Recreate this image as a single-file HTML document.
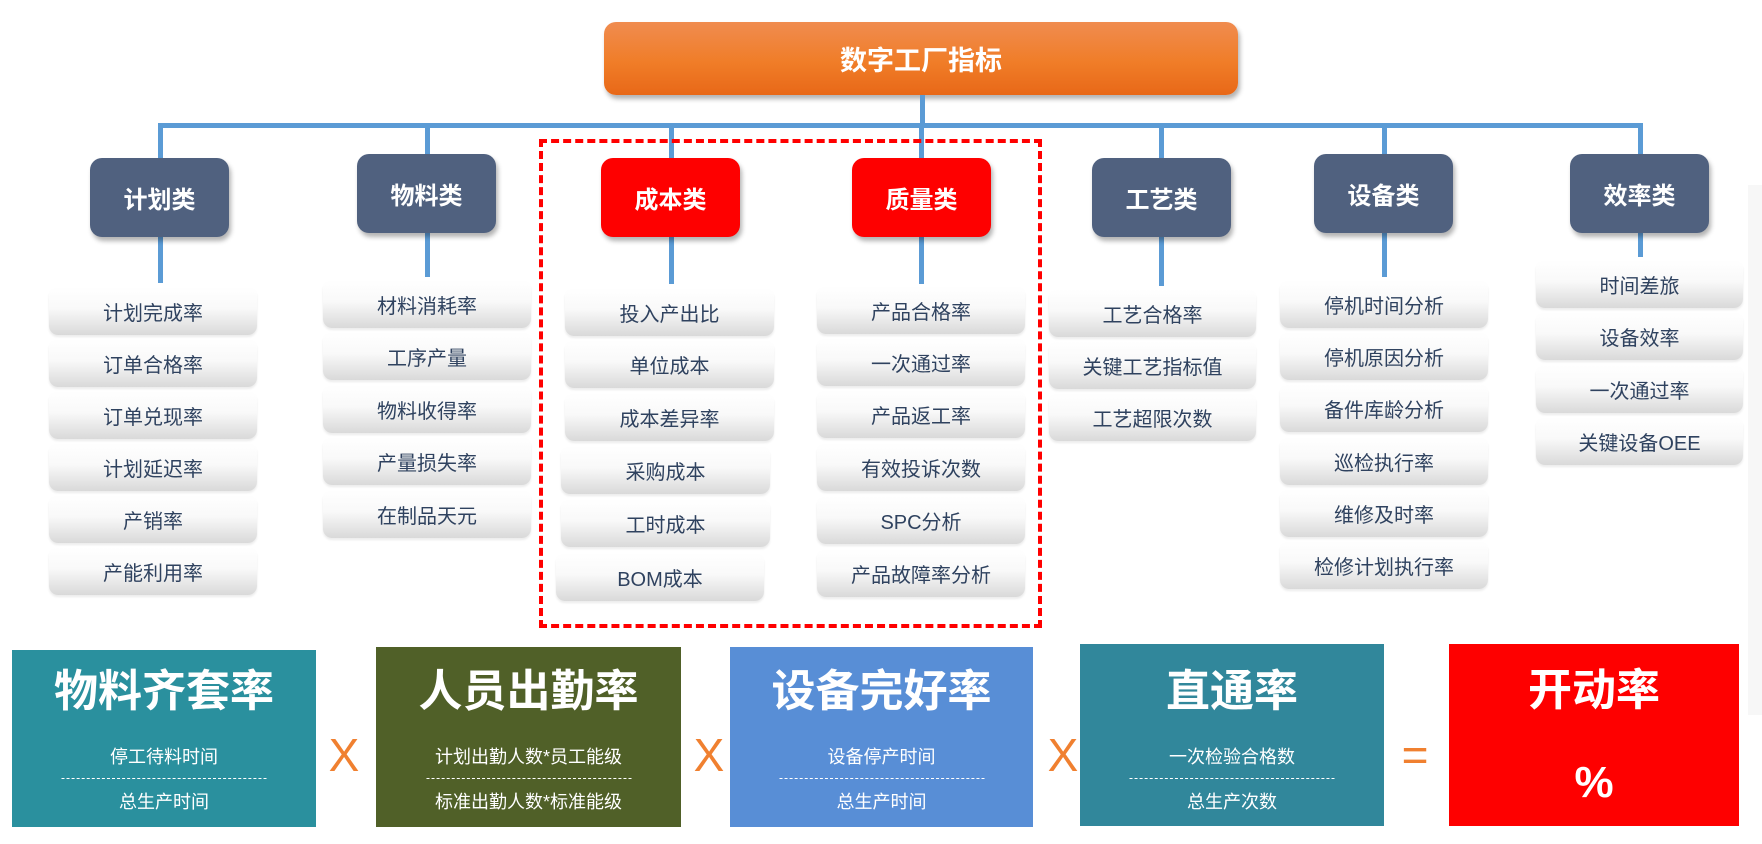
<!DOCTYPE html>
<html><head><meta charset="utf-8"><style>
body{margin:0;width:1762px;height:844px;background:#fff;position:relative;overflow:hidden;font-family:"Liberation Sans","Noto Sans CJK SC",sans-serif}
div{position:absolute;box-sizing:border-box}
.ln{background:#5b9bd5}
.cat{width:139px;height:79px;border-radius:12px;background:#50617f;color:#fff;font-weight:bold;font-size:24px;display:flex;align-items:center;justify-content:center;box-shadow:2px 4px 5px rgba(0,0,0,.3)}
.red{background:#fe0000}
.it{height:48px;border-radius:9px;background:linear-gradient(#fff 0%,#f9f9f9 45%,#d9d9d9 100%);color:#2f425f;font-size:20px;display:flex;align-items:center;justify-content:center;box-shadow:0 2px 2px rgba(0,0,0,.08)}
.big{color:#fff;text-align:center}
.big .t{position:absolute;left:0;right:0;font-size:44px;font-weight:bold;line-height:50px}
.big .s{position:absolute;left:0;right:0;font-size:18px;line-height:24px}
.big .d{position:absolute;left:50%;transform:translateX(-50%);width:205px;border-top:1px dashed #fff;height:0}
.op{color:#f08030;font-size:46px;line-height:50px;width:40px;text-align:center}
</style></head><body>
<div style="left:1748px;top:185px;width:14px;height:530px;background:#f7f7f7"></div>
<div style="left:604px;top:22px;width:634px;height:73px;border-radius:12px;background:linear-gradient(#f08c50,#f07d28 55%,#e86818);color:#fff;font-weight:bold;font-size:27px;display:flex;align-items:center;justify-content:center;box-shadow:2px 4px 5px rgba(0,0,0,.3)">数字工厂指标</div>
<div class="ln" style="left:920px;top:95px;width:5px;height:32px"></div>
<div class="ln" style="left:158px;top:123px;width:1485px;height:5px"></div>
<div class="ln" style="left:158px;top:123px;width:5px;height:38px"></div>
<div class="ln" style="left:425px;top:123px;width:5px;height:34px"></div>
<div class="ln" style="left:669px;top:123px;width:5px;height:38px"></div>
<div class="ln" style="left:919px;top:123px;width:5px;height:38px"></div>
<div class="ln" style="left:1159px;top:123px;width:5px;height:38px"></div>
<div class="ln" style="left:1382px;top:123px;width:5px;height:34px"></div>
<div class="ln" style="left:1638px;top:123px;width:5px;height:34px"></div>
<div class="ln" style="left:158px;top:236px;width:5px;height:47px"></div>
<div class="ln" style="left:425px;top:232px;width:5px;height:45px"></div>
<div class="ln" style="left:669px;top:236px;width:5px;height:48px"></div>
<div class="ln" style="left:919px;top:236px;width:5px;height:48px"></div>
<div class="ln" style="left:1159px;top:236px;width:5px;height:50px"></div>
<div class="ln" style="left:1382px;top:232px;width:5px;height:45px"></div>
<div class="ln" style="left:1638px;top:232px;width:5px;height:25px"></div>
<div style="left:539px;top:139px;width:503px;height:489px;border:4px dashed #f00"></div>
<div class="cat" style="left:90px;top:158px">计划类</div>
<div class="cat" style="left:357px;top:154px">物料类</div>
<div class="cat red" style="left:601px;top:158px">成本类</div>
<div class="cat red" style="left:852px;top:158px">质量类</div>
<div class="cat" style="left:1092px;top:158px">工艺类</div>
<div class="cat" style="left:1314px;top:154px">设备类</div>
<div class="cat" style="left:1570px;top:154px">效率类</div>

<div class="it" style="left:49px;top:287px;width:208px">计划完成率</div>
<div class="it" style="left:49px;top:339px;width:208px">订单合格率</div>
<div class="it" style="left:49px;top:391px;width:208px">订单兑现率</div>
<div class="it" style="left:49px;top:443px;width:208px">计划延迟率</div>
<div class="it" style="left:49px;top:495px;width:208px">产销率</div>
<div class="it" style="left:49px;top:547px;width:208px">产能利用率</div>

<div class="it" style="left:323px;top:280px;width:208px">材料消耗率</div>
<div class="it" style="left:323px;top:332px;width:208px">工序产量</div>
<div class="it" style="left:323px;top:385px;width:208px">物料收得率</div>
<div class="it" style="left:323px;top:437px;width:208px">产量损失率</div>
<div class="it" style="left:323px;top:490px;width:208px">在制品天元</div>

<div class="it" style="left:565px;top:288px;width:209px">投入产出比</div>
<div class="it" style="left:565px;top:340px;width:209px">单位成本</div>
<div class="it" style="left:565px;top:393px;width:209px">成本差异率</div>
<div class="it" style="left:561px;top:446px;width:209px">采购成本</div>
<div class="it" style="left:561px;top:499px;width:209px">工时成本</div>
<div class="it" style="left:556px;top:553px;width:208px">BOM成本</div>

<div class="it" style="left:817px;top:286px;width:208px">产品合格率</div>
<div class="it" style="left:817px;top:338px;width:208px">一次通过率</div>
<div class="it" style="left:817px;top:390px;width:208px">产品返工率</div>
<div class="it" style="left:817px;top:443px;width:208px">有效投诉次数</div>
<div class="it" style="left:817px;top:496px;width:208px">SPC分析</div>
<div class="it" style="left:817px;top:549px;width:208px">产品故障率分析</div>

<div class="it" style="left:1049px;top:289px;width:207px">工艺合格率</div>
<div class="it" style="left:1049px;top:341px;width:207px">关键工艺指标值</div>
<div class="it" style="left:1049px;top:393px;width:207px">工艺超限次数</div>

<div class="it" style="left:1280px;top:280px;width:208px">停机时间分析</div>
<div class="it" style="left:1280px;top:332px;width:208px">停机原因分析</div>
<div class="it" style="left:1280px;top:384px;width:208px">备件库龄分析</div>
<div class="it" style="left:1280px;top:437px;width:208px">巡检执行率</div>
<div class="it" style="left:1280px;top:489px;width:208px">维修及时率</div>
<div class="it" style="left:1280px;top:541px;width:208px">检修计划执行率</div>

<div class="it" style="left:1536px;top:260px;width:207px">时间差旅</div>
<div class="it" style="left:1536px;top:312px;width:207px">设备效率</div>
<div class="it" style="left:1536px;top:365px;width:207px">一次通过率</div>
<div class="it" style="left:1536px;top:417px;width:207px">关键设备OEE</div>

<div class="big" style="left:12px;top:650px;width:304px;height:177px;background:#2a909e">
<div class="t" style="top:17px">物料齐套率</div><div class="s" style="top:95px">停工待料时间</div><div class="d" style="top:128px"></div><div class="s" style="top:140px">总生产时间</div></div>
<div class="op" style="left:324px;top:730px">X</div>
<div class="big" style="left:376px;top:647px;width:305px;height:180px;background:#506028">
<div class="t" style="top:20px">人员出勤率</div><div class="s" style="top:98px">计划出勤人数*员工能级</div><div class="d" style="top:131px"></div><div class="s" style="top:143px">标准出勤人数*标准能级</div></div>
<div class="op" style="left:689px;top:730px">X</div>
<div class="big" style="left:730px;top:647px;width:303px;height:180px;background:#588ed6">
<div class="t" style="top:20px">设备完好率</div><div class="s" style="top:98px">设备停产时间</div><div class="d" style="top:131px"></div><div class="s" style="top:143px">总生产时间</div></div>
<div class="op" style="left:1043px;top:730px">X</div>
<div class="big" style="left:1080px;top:644px;width:304px;height:182px;background:#31879b">
<div class="t" style="top:23px">直通率</div><div class="s" style="top:101px">一次检验合格数</div><div class="d" style="top:134px"></div><div class="s" style="top:146px">总生产次数</div></div>
<div class="op" style="left:1395px;top:730px">=</div>
<div class="big" style="left:1449px;top:644px;width:290px;height:182px;background:#fe0000">
<div class="t" style="top:22px">开动率</div><div class="t" style="top:114px">%</div></div>
</body></html>
